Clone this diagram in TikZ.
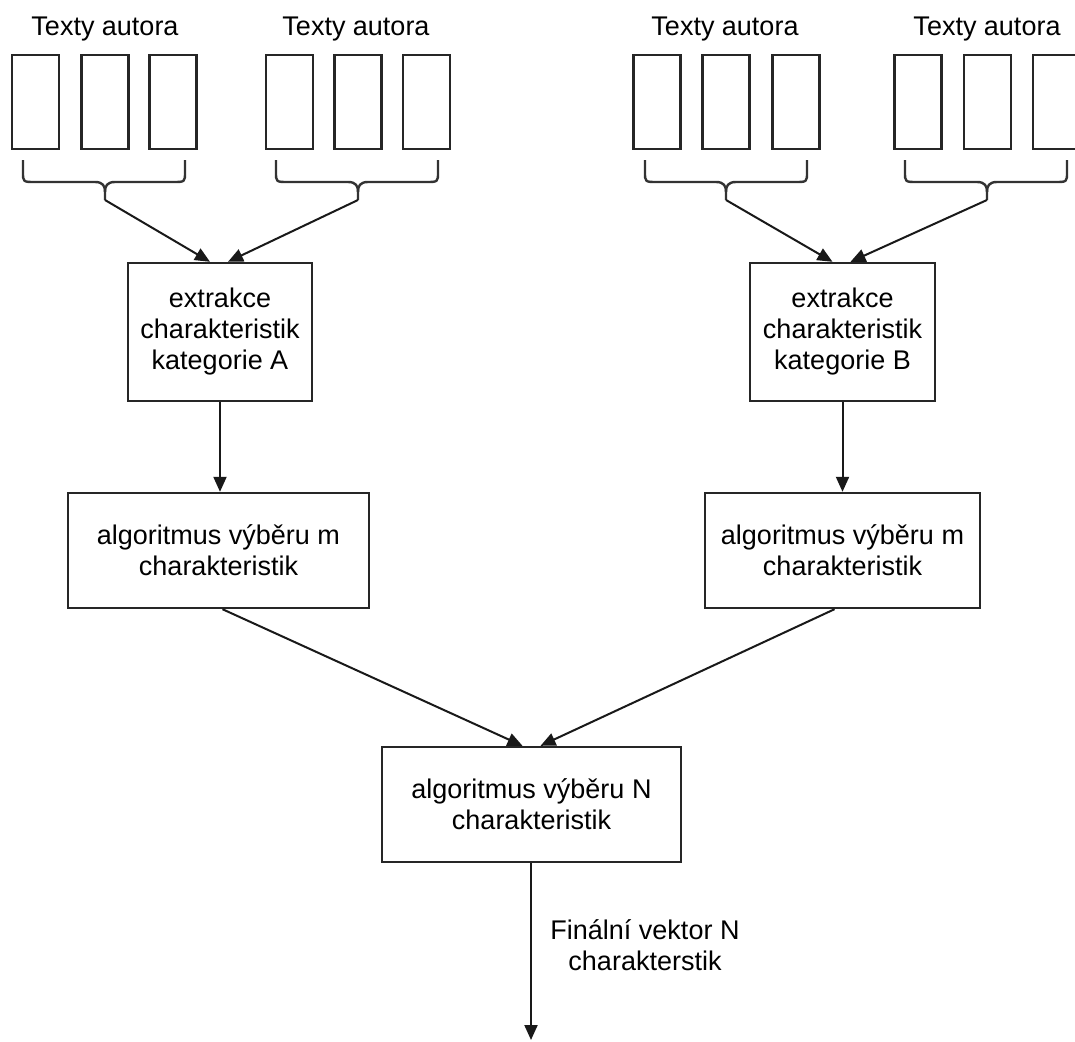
\documentclass[tikz,border=0pt]{standalone}
\usepackage{fontspec}
\setmainfont{Liberation Sans}
\usetikzlibrary{arrows.meta}
\tikzset{
  doc/.style={draw=black!85, line width=2.4pt, minimum width=47pt, minimum height=94pt, inner sep=0pt},
  proc/.style={draw=black!85, line width=2.4pt, inner sep=0pt, align=center, font=\fontsize{27}{31}\selectfont},
  lbl/.style={align=center, inner sep=0pt, font=\fontsize{27}{31}\selectfont},
  arr/.style={line width=2pt, draw=black!90, -{Triangle[length=15pt,width=13pt]}},
  bracepath/.style={line width=2.4pt, draw=black!80, line join=round}
}
\newcommand\mybrace[4]{%
  \draw[bracepath] (#1,160) -- (#1,172) .. controls (#1,182) .. (#1+12,182) -- (#2-10,182)
     .. controls (#2-2,182) and (#2,186) .. (#2,192) -- (#2,200);
  \draw[bracepath] (#3,160) -- (#3,172) .. controls (#3,182) .. (#3-12,182) -- (#2+10,182)
     .. controls (#2+2,182) and (#2,186) .. (#2,192);
  \coordinate (#4) at (#2,200);
}
\begin{document}
\begin{tikzpicture}[x=1pt,y=-1pt]
\useasboundingbox (0,0) rectangle (1075,1041);
\clip (0,0) rectangle (1075,1041);
% labels
\node[lbl] (t1) at (105,29) {Texty autora};
\node[lbl] (t2) at (356,29) {Texty autora};
\node[lbl] (t3) at (725,29) {Texty autora};
\node[lbl] (t4) at (987,29) {Texty autora};
% documents
\node[doc] (d11) at (35.5,102) {};
\node[doc] (d12) at (105,102) {};
\node[doc] (d13) at (173,102) {};
\node[doc] (d21) at (289.5,102) {};
\node[doc] (d22) at (358,102) {};
\node[doc] (d23) at (426.5,102) {};
\node[doc] (d31) at (657,102) {};
\node[doc] (d32) at (726,102) {};
\node[doc] (d33) at (796,102) {};
\node[doc] (d41) at (918,102) {};
\node[doc] (d42) at (987.5,102) {};
\node[doc] (d43) at (1056.5,102) {};
% braces
\mybrace{23}{105}{185}{b1}
\mybrace{276}{358}{438}{b2}
\mybrace{645}{726}{807}{b3}
\mybrace{905}{987}{1067}{b4}
% process boxes
\node[proc, minimum width=184pt, minimum height=138pt] (bA) at (220,332) {extrakce\\charakteristik\\kategorie A};
\node[proc, minimum width=185pt, minimum height=138pt] (bB) at (842.5,332) {extrakce\\charakteristik\\kategorie B};
\node[proc, minimum width=301pt, minimum height=115pt] (m1) at (218.5,550.5) {algoritmus výběru m\\charakteristik};
\node[proc, minimum width=275pt, minimum height=115pt] (m2) at (842.5,550.5) {algoritmus výběru m\\charakteristik};
\node[proc, minimum width=299pt, minimum height=115pt] (fin) at (531.5,804.5) {algoritmus výběru N\\charakteristik};
\node[lbl] (fl) at (645,945) {Finální vektor N\\charakterstik};
\coordinate (out) at (531,1040);
% connectors
\draw[arr] (b1) -- ([xshift=-10pt]bA.north);
\draw[arr] (b2) -- ([xshift=8pt]bA.north);
\draw[arr] (b3) -- ([xshift=-10pt]bB.north);
\draw[arr] (b4) -- ([xshift=8pt]bB.north);
\draw[arr] (bA.south) -- (bA.south |- m1.north);
\draw[arr] (bB.south) -- (bB.south |- m2.north);
\draw[arr] ([xshift=4pt]m1.south) -- ([xshift=-9pt]fin.north);
\draw[arr] ([xshift=-8pt]m2.south) -- ([xshift=9pt]fin.north);
\draw[arr] (fin.south -| out) -- (out);
\end{tikzpicture}
\end{document}
